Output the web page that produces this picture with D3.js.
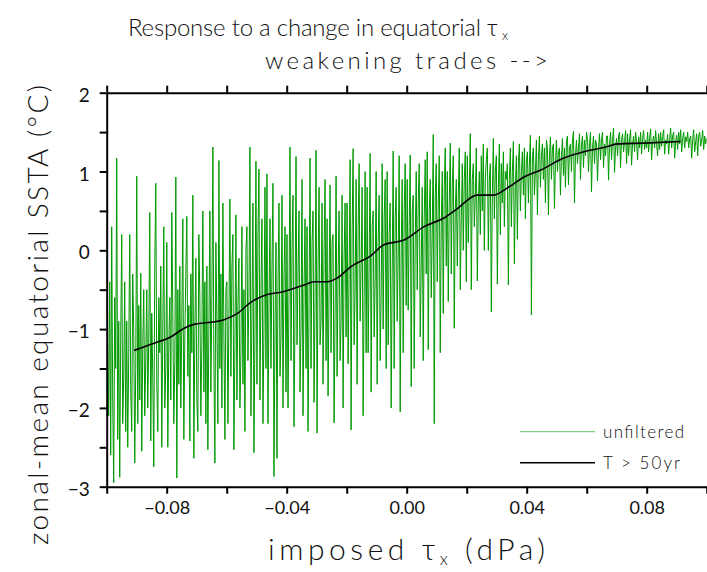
<!DOCTYPE html>
<html>
<head>
<meta charset="utf-8">
<script src="https://cdn.jsdelivr.net/npm/d3@7"></script>
<style>
  body { margin: 0; background: #fff; }
  text { font-family: Lato, "Open Sans", sans-serif; fill: #111; }
  .axis path, .axis line { stroke: #000; stroke-width: 2; }
</style>
</head>
<body>
<svg id="chart" width="707" height="572"></svg>
<script>
// x range of the run; unfiltered samples are evenly spaced across it
const xStart = -0.1;
const xEnd = 0.1;

// unfiltered SSTA (~1px apart)
const unfiltered = [
  0.05, -1.2, -2.1, -0.4, -2.6, 0.3, -1.9, -2.95, -0.6, -1.5, 1.17, -2.4, -0.9, -2.88, -1.1, 0.2, -2.2, -1.6, -0.4, -2.3,
  -0.9, -2.5, -1.3, 0.2, -1.8, -2.3, -0.3, -1.0, -2.7, -1.5, 0.94, -2.2, -0.7, -1.9, -0.29, -2.55, -1.2, -0.5, -2.1, -1.4,
  -0.5, -2.0, -1.1, 0.48, -2.42, -0.8, -1.6, -2.75, -0.2, 0.85, -1.7, -2.3, -0.6, -1.3, -0.2, -2.5, -1.0, 0.3, -2.0, -1.5,
  0.1, -2.5, -1.2, -0.6, -1.9, 0.48, -0.8, -2.2, -1.4, 0.93, -2.89, -0.5, -1.7, -0.2, -2.0, -0.9, 0.4, -2.4, -1.1, -0.3,
  0.43, -1.6, -0.7, -2.42, -0.3, -1.3, 0.7, -2.64, -1.0, -0.1, -1.9, -2.3, 0.2, -0.6, -2.1, -1.2, 0.5, -1.8, -0.4, -2.2,
  -0.2, -2.53, -1.0, 0.5, -1.8, -0.6, 1.31, -1.4, -2.7, 0.1, -0.9, -2.2, 1.14, -1.5, -0.3, -2.0, 0.6, -1.1, -2.4, -0.5,
  -0.4, -2.2, -0.9, 0.65, -1.6, -0.2, 0.2, -2.53, -1.2, 0.45, -1.9, -0.7, -0.1, -2.0, -1.3, 0.3, -1.7, -0.5, -2.3, 0.0,
  0.3, -1.4, -0.6, 1.31, -2.1, -0.8, 0.6, -2.57, -1.1, 1.13, -1.7, 0.2, 1.03, -1.9, -0.5, 0.4, -2.2, -1.0, 0.8, -1.5,
  0.97, -2.2, -0.7, 0.4, -1.5, -0.2, 0.85, -2.87, -1.0, 0.1, -2.64, -0.4, 0.6, -1.6, -1.1, 0.7, -2.0, -0.3, 0.3, -1.8,
  0.2, -2.0, -0.6, 1.31, -1.4, 0.0, 0.7, -2.24, -0.8, 1.19, -1.2, -0.3, 0.5, -1.8, -1.0, 0.9, -2.1, -0.5, 0.4, -1.5,
  0.3, -2.3, -0.7, 1.17, -1.5, 0.1, 0.5, -1.93, -0.6, 1.27, -2.32, -0.2, 0.8, -1.2, -0.9, 0.6, -1.7, 0.0, 0.9, -1.4,
  0.4, -1.85, -0.5, 0.83, -1.3, 0.1, 0.2, -2.19, -0.8, 0.94, -1.6, -0.3, 0.5, -1.4, -0.9, 0.7, -2.0, -0.1, 0.6, -1.1,
  0.6, -1.44, -0.3, 1.15, -2.28, 0.2, 1.29, -1.2, -0.5, 0.9, -1.7, 0.3, 1.1, -0.9, -0.2, 0.8, -2.1, -0.6, 1.0, -1.3,
  0.8, -1.3, -0.2, 1.23, -1.8, 0.3, 0.5, -1.1, -0.4, 1.0, -1.7, 0.1, 0.7, -1.4, -0.6, 1.1, -1.0, 0.4, 0.9, -1.5,
  1.0, -1.2, 0.2, 0.6, -2.0, -0.3, 1.26, -1.5, 0.4, 0.8, -0.9, -0.1, 1.2, -2.05, 0.0, 0.9, -1.3, 0.5, 1.1, -0.7,
  0.9, -0.76, 0.3, 1.21, -1.73, 0.5, 0.7, -1.5, 0.1, 1.0, -0.5, 0.6, 1.1, -1.1, -0.2, 0.8, -1.4, 0.4, 1.15, -0.3,
  1.25, -1.26, 0.5, 0.9, -0.6, 0.2, 1.47, -2.2, 0.7, 1.1, -0.4, 0.6, 1.2, -1.3, 0.3, 1.0, -0.8, 0.8, 1.3, -0.2,
  1.0, -0.65, 0.6, 1.36, -0.3, 0.8, 1.2, -0.99, 0.5, 0.9, -0.2, 0.7, 1.3, -0.5, 0.4, 1.1, 0.0, 0.9, 1.25, -0.4,
  1.2, 0.1, 0.8, 1.48, -0.5, 0.9, 1.1, 0.3, 0.7, 1.3, -0.39, 0.6, 1.0, 0.2, 1.2, 0.5, 1.35, 0.0, 0.9, 1.15,
  1.3, 0.0, 0.9, 1.1, -0.78, 0.7, 1.42, 0.4, 1.0, 1.2, -0.43, 0.8, 1.35, 0.2, 1.1, 0.6, 1.25, 0.3, 1.0, 0.9,
  1.1, -0.44, 0.9, 1.3, 0.3, 1.0, 1.38, -0.17, 0.8, 1.2, 0.14, 1.1, 1.35, 0.5, 1.0, 1.25, 0.7, 1.3, 0.4, 1.15,
  1.25, 0.6, 1.1, 1.46, -0.82, 1.2, 1.3, 0.7, 1.0, 1.4, 0.45, 1.15, 1.45, 0.8, 1.2, 1.35, 0.9, 1.3, 0.6, 1.4,
  1.3, 0.45, 1.2, 1.44, 0.9, 1.3, 1.35, 0.53, 1.1, 1.4, 1.0, 1.25, 1.3, 0.7, 1.2, 1.42, 0.95, 1.3, 0.8, 1.38,
  1.45, 0.83, 1.3, 1.35, 1.0, 1.4, 1.51, 0.6, 1.2, 1.4, 1.1, 1.3, 1.48, 0.9, 1.35, 1.45, 1.05, 1.4, 1.2, 1.5,
  1.4, 1.0, 1.35, 1.5, 0.74, 1.3, 1.45, 1.1, 1.4, 1.35, 0.88, 1.3, 1.48, 1.15, 1.4, 1.5, 1.05, 1.35, 1.2, 1.45,
  1.45, 0.89, 1.35, 1.5, 1.15, 1.4, 1.55, 0.99, 1.3, 1.42, 1.2, 1.45, 1.5, 1.05, 1.4, 1.48, 1.25, 1.38, 1.52, 1.1,
  1.48, 1.2, 1.4, 1.53, 1.08, 1.35, 1.45, 1.25, 1.5, 1.38, 1.15, 1.44, 1.3, 1.5, 1.22, 1.42, 1.52, 1.28, 1.4, 1.3,
  1.5, 1.25, 1.42, 1.54, 1.15, 1.38, 1.45, 1.3, 1.52, 1.35, 1.2, 1.48, 1.28, 1.5, 1.32, 1.44, 1.53, 1.22, 1.4, 1.35,
  1.47, 1.22, 1.4, 1.55, 1.3, 1.45, 1.5, 1.17, 1.38, 1.46, 1.28, 1.5, 1.35, 1.53, 1.25, 1.42, 1.5, 1.3, 1.44, 1.38,
  1.5, 1.3, 1.42, 1.45, 1.17, 1.4, 1.53, 1.25, 1.38, 1.48, 1.2, 1.45, 1.5, 1.32, 1.4, 1.52, 1.28, 1.45, 1.35, 1.42
];

// low-pass (T > 50yr) curve
const filteredX = [-0.0909, -0.0842, -0.0787, -0.0742, -0.0709, -0.0669, -0.0609, -0.0564,
  -0.052, -0.0465, -0.0415, -0.0342, -0.0309, -0.0265, -0.0231, -0.0187, -0.012, -0.0076,
  -0.0009, 0.0058, 0.0124, 0.0169, 0.0235, 0.0291, 0.0331, 0.0391, 0.0447, 0.0524,
  0.0591, 0.0664, 0.0702, 0.0791, 0.0913];
const filteredY = [-1.27, -1.18, -1.10, -0.99, -0.94, -0.92, -0.88, -0.80,
  -0.66, -0.56, -0.53, -0.44, -0.40, -0.40, -0.35, -0.21, -0.07, 0.07,
  0.13, 0.30, 0.41, 0.53, 0.70, 0.70, 0.78, 0.93, 1.02, 1.17,
  1.25, 1.31, 1.35, 1.36, 1.38];

const xTicks = [-0.1, -0.08, -0.06, -0.04, -0.02, 0, 0.02, 0.04, 0.06, 0.08, 0.1];
const xTickLabels = {"-0.08": "\u22120.08", "-0.04": "\u22120.04", "0": "0.00", "0.04": "0.04", "0.08": "0.08"};
const yTicks = [-3, -2.5, -2, -1.5, -1, -0.5, 0, 0.5, 1, 1.5, 2];

const margin = {top: 92.7, left: 106.7};
const width = 600, height = 394;

const svg = d3.select("#chart");
const g = svg.append("g")
  .attr("transform", "translate(" + margin.left + "," + margin.top + ")");

const x = d3.scaleLinear().domain([xStart, xEnd]).range([0, width]);
const y = d3.scaleLinear().domain([-3, 2]).range([height, 0]);

svg.append("defs").append("clipPath").attr("id", "plotclip")
  .append("rect").attr("width", width).attr("height", height);

// unfiltered series
const step = (xEnd - xStart) / (unfiltered.length - 1);
const rawLine = d3.line()
  .x((d, i) => x(xStart + i * step))
  .y(d => y(d));

g.append("path")
  .datum(unfiltered)
  .attr("clip-path", "url(#plotclip)")
  .attr("fill", "none")
  .attr("stroke", "#009900")
  .attr("stroke-width", 1)
  .attr("d", rawLine);

// filtered series
const smoothLine = d3.line()
  .x(d => x(d[0]))
  .y(d => y(d[1]))
  .curve(d3.curveMonotoneX);

g.append("path")
  .datum(d3.zip(filteredX, filteredY))
  .attr("fill", "none")
  .attr("stroke", "#000")
  .attr("stroke-width", 1.6)
  .attr("d", smoothLine);

// axes
const fmtX = d => xTickLabels[String(+d.toFixed(2))] || "";
g.append("g")
  .attr("class", "axis")
  .attr("transform", "translate(0," + height + ")")
  .call(d3.axisBottom(x).tickValues(xTicks).tickSize(7).tickSizeOuter(0).tickFormat(fmtX))
  .selectAll("text")
    .attr("y", 15)
    .style("font-size", "18px");

g.append("g")
  .attr("class", "axis")
  .call(d3.axisTop(x).tickValues(xTicks).tickSize(7).tickSizeOuter(0).tickFormat(""));

g.append("g")
  .attr("class", "axis")
  .call(d3.axisLeft(y).tickValues(yTicks).tickSize(7).tickSizeOuter(0)
    .tickFormat(d => Number.isInteger(d) ? (d < 0 ? "\u2212" + Math.abs(d) : d) : ""))
  .selectAll("text")
    .attr("x", -17)
    .attr("dy", "0.45em")
    .style("font-size", "19px");

// titles
svg.append("text")
  .attr("x", 128).attr("y", 36)
  .attr("textLength", 370).attr("lengthAdjust", "spacing")
  .style("font-size", "24px").style("font-weight", 300)
  .text("Response to a change in equatorial \u03C4");
svg.append("text")
  .attr("x", 502).attr("y", 40)
  .style("font-size", "13px").style("font-weight", 300)
  .text("x");

svg.append("text")
  .attr("x", 265).attr("y", 69)
  .attr("textLength", 283).attr("lengthAdjust", "spacing")
  .style("font-size", "24px").style("font-weight", 300)
  .text("weakening trades -->");

// x label
const xl = svg.append("text")
  .attr("x", 268).attr("y", 560)
  .attr("textLength", 277).attr("lengthAdjust", "spacing")
  .style("font-size", "30px").style("font-weight", 300);
xl.append("tspan").text("imposed \u03C4");
xl.append("tspan").attr("dy", 5).style("font-size", "17px").text("x");
xl.append("tspan").attr("dy", -5).text(" (dPa)");

// y label
svg.append("text")
  .attr("transform", "translate(48,315) rotate(-90)")
  .attr("text-anchor", "middle")
  .attr("textLength", 460).attr("lengthAdjust", "spacing")
  .style("font-size", "28px").style("font-weight", 300)
  .text("zonal-mean equatorial SSTA (\u00B0C)");

// legend
const legend = [
  {label: "unfiltered", color: "#009900", width: 1, y: 431.7, len: 81},
  {label: "T  >  50yr", color: "#000", width: 1.6, y: 462.7, len: 77}
];
legend.forEach(l => {
  svg.append("line")
    .attr("x1", 520).attr("x2", 595)
    .attr("y1", l.y).attr("y2", l.y)
    .attr("stroke", l.color).attr("stroke-width", l.width)
    .attr("opacity", l.color === "#000" ? 1 : 0.6);
  svg.append("text")
    .attr("x", 603).attr("y", l.y + 6)
    .attr("textLength", l.len).attr("lengthAdjust", "spacing")
    .style("font-size", "17px").style("font-weight", 300)
    .text(l.label);
});
</script>
</body>
</html>
